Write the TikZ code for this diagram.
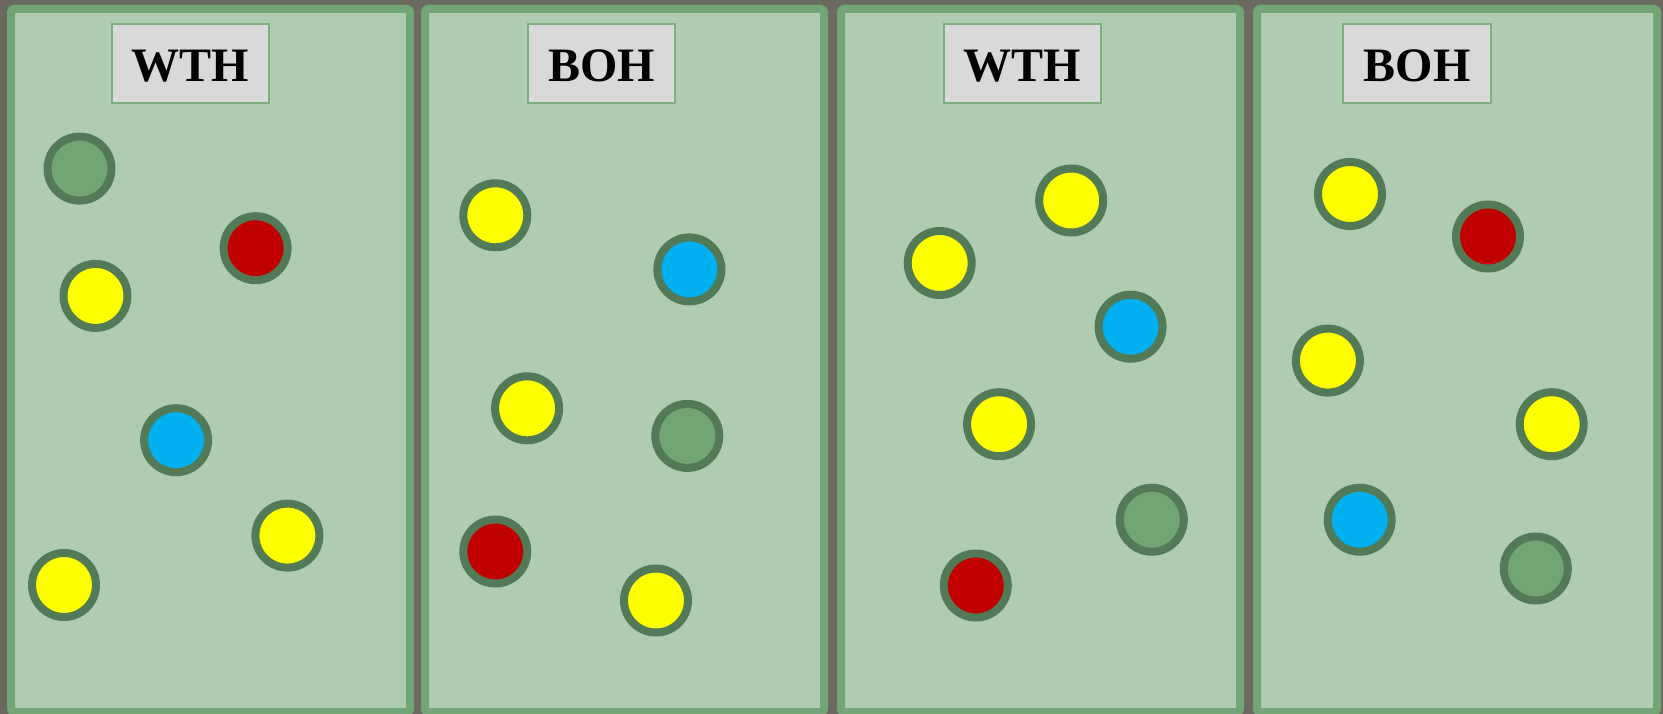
\documentclass[tikz,border=0pt]{standalone}
\usepackage{fontspec}
\setmainfont{Liberation Serif}
\definecolor{bggrey}{HTML}{6A6B5E}
\definecolor{panelfill}{HTML}{AFCCB0}
\definecolor{panelline}{HTML}{71A576}
\definecolor{ringc}{HTML}{527A56}
\definecolor{greenball}{HTML}{71A574}
\definecolor{yellowball}{HTML}{FFFF00}
\definecolor{redball}{HTML}{C00000}
\definecolor{blueball}{HTML}{00B0F0}
\definecolor{labelfill}{HTML}{D9D9D9}
\definecolor{labelline}{HTML}{7DAF7D}
\begin{document}
\begin{tikzpicture}[x=1pt,y=-1pt,
  panel/.style={draw=panelline,fill=panelfill,line width=8pt,rounded corners=3pt,inner sep=0pt},
  labelbox/.style={draw=labelline,fill=labelfill,line width=1.5pt,inner sep=0pt,minimum height=79pt},
  labeltext/.style={font=\fontsize{48}{48}\selectfont\bfseries,inner sep=0pt,anchor=base},
  ball/.style={circle,draw=ringc,line width=8pt,minimum size=64pt,inner sep=0pt},
  yb/.style={ball,fill=yellowball},
  rb/.style={ball,fill=redball},
  bb/.style={ball,fill=blueball},
  gb/.style={ball,fill=greenball}]
\useasboundingbox (0,0) rectangle (1663,714);
\fill[bggrey] (0,0) rectangle (1663,714);
% panels
\node[panel,minimum width=399pt,minimum height=703pt] (p1) at (210.5,360.5) {};
\node[panel,minimum width=399pt,minimum height=703pt] (p2) at (624.5,360.5) {};
\node[panel,minimum width=399pt,minimum height=703pt] (p3) at (1040.5,360.5) {};
\node[panel,minimum width=400pt,minimum height=703pt] (p4) at (1457,360.5) {};
% labels
\node[labelbox,minimum width=157pt] (l1) at (190.5,63.5) {};
\node[labelbox,minimum width=147pt] (l2) at (601.5,63.5) {};
\node[labelbox,minimum width=157pt] (l3) at (1022.5,63.5) {};
\node[labelbox,minimum width=148pt] (l4) at (1417,63.5) {};
\node[labeltext] (t1) at (190.5,82) {WTH};
\node[labeltext] (t2) at (601.5,82) {BOH};
\node[labeltext] (t3) at (1022.5,82) {WTH};
\node[labeltext] (t4) at (1417,82) {BOH};
% panel 1
\node[gb] (a1) at (79.5,168.6) {};
\node[rb] (a2) at (255.6,248.2) {};
\node[yb] (a3) at (95.5,295.9) {};
\node[bb] (a4) at (176.1,440.2) {};
\node[yb] (a5) at (287.4,535.6) {};
\node[yb] (a6) at (64,585) {};
% panel 2
\node[yb] (b1) at (495.3,215.3) {};
\node[bb] (b2) at (689.4,269.4) {};
\node[yb] (b3) at (527.1,408.3) {};
\node[gb] (b4) at (687.3,435.9) {};
\node[rb] (b5) at (495.3,551.5) {};
\node[yb] (b6) at (656,600.5) {};
% panel 3
\node[yb] (c1) at (1071.2,200.5) {};
\node[yb] (c2) at (939.7,263.0) {};
\node[bb] (c3) at (1130.6,326.7) {};
\node[yb] (c4) at (999.1,424.2) {};
\node[gb] (c5) at (1151.8,519.7) {};
\node[rb] (c6) at (975.8,585.5) {};
% panel 4
\node[yb] (d1) at (1350,194) {};
\node[rb] (d2) at (1488.0,236.5) {};
\node[yb] (d3) at (1327.9,360.6) {};
\node[yb] (d4) at (1551.7,424.2) {};
\node[bb] (d5) at (1359.7,519.7) {};
\node[gb] (d6) at (1535.8,568.5) {};
\end{tikzpicture}
\end{document}
